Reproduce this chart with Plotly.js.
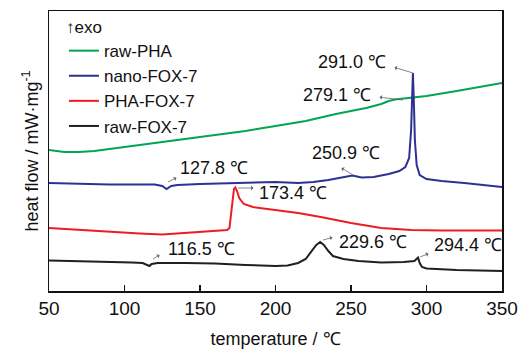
<!DOCTYPE html>
<html>
<head>
<meta charset="utf-8">
<script src="https://cdn.plot.ly/plotly-3.0.1.min.js"></script>
<style>html,body{margin:0;padding:0;background:#fff;}#chart{width:518px;height:349px;}</style>
</head>
<body>
<div id="chart"></div>
<script>
// Temperature (°C) and heat flow (arbitrary offsets, mW/mg)
const phaT = [50,60,70,80,100,120,140,160,180,200,220,240,260,270,275,279,290,300,320,340,350];
const phaY = [1.41,1.39,1.39,1.40,1.44,1.48,1.52,1.56,1.60,1.65,1.70,1.77,1.83,1.87,1.90,1.915,1.93,1.95,2.00,2.05,2.08];

const nanoT = [50,70,90,110,120,125,127.8,131,135,150,175,200,215,225,235,245,250.9,257,265,275,282,286,288.5,289.8,290.5,291,291.6,292.3,293.5,295.5,300,310,325,340,350];
const nanoY = [1.08,1.07,1.065,1.065,1.065,1.05,1.02,1.05,1.06,1.07,1.08,1.09,1.08,1.09,1.11,1.14,1.155,1.135,1.14,1.17,1.20,1.24,1.33,1.61,1.96,2.18,1.91,1.51,1.26,1.16,1.12,1.10,1.08,1.06,1.04];

const phaFoxT = [50,70,90,110,125,140,155,165,168,169.5,170.5,171.5,172.5,173.4,174.5,176,179,185,195,205,215,230,250,270,290,310,350];
const phaFoxY = [0.63,0.61,0.59,0.575,0.565,0.58,0.595,0.61,0.61,0.63,0.76,0.93,1.02,1.035,1.00,0.93,0.87,0.84,0.82,0.80,0.78,0.74,0.68,0.63,0.61,0.605,0.605];

const rawFoxT = [50,70,90,105,112,115,116.5,118,122,140,160,180,200,208,215,220,224,227,229.6,232,235,238,245,255,270,285,292,294.4,295.5,297,300,320,350];
const rawFoxY = [0.305,0.30,0.295,0.285,0.28,0.265,0.25,0.27,0.28,0.28,0.275,0.26,0.25,0.255,0.28,0.32,0.40,0.46,0.49,0.46,0.40,0.35,0.32,0.30,0.285,0.29,0.30,0.335,0.28,0.24,0.225,0.21,0.20];

const seriesNames = ['raw-PHA','nano-FOX-7','PHA-FOX-7','raw-FOX-7'];
const xTicks = [50,100,150,200,250,300,350];

// peak labels: text, text position, arrow tail (on curve), arrow head
const peakLabels = ['291.0 ℃','279.1 ℃','250.9 ℃','127.8 ℃','173.4 ℃','116.5 ℃','229.6 ℃','294.4 ℃'];
const labelX = [274.5,264.6,247.0,135.4,187.7,127.5,240.7,303.6];
const labelY = [2.29,1.96,1.38,1.23,0.98,0.42,0.49,0.46];
const labelAnchor = ['right','right','center','left','left','left','left','left'];
const tailX = [291.1,284.4,251.3,128.8,175.2,118.9,231.5,295.7];
const tailY = [2.18,1.91,1.16,1.09,1.03,0.32,0.51,0.34];
const headX = [277.8,267.9,242.7,135.4,186.4,124.2,238.7,302.3];
const headY = [2.24,1.94,1.24,1.14,1.03,0.37,0.54,0.38];

const FONT = "'Liberation Sans', Arial, sans-serif";
const colors = ['#00a651','#2e3192','#ed1c24','#231f20'];
const xs = [phaT,nanoT,phaFoxT,rawFoxT];
const ys = [phaY,nanoY,phaFoxY,rawFoxY];

const traces = seriesNames.map((n,i)=>({
  x: xs[i], y: ys[i], name: n, type: 'scatter', mode: 'lines',
  line: {color: colors[i], width: 2}
}));

const annotations = [];
peakLabels.forEach((t,i)=>{
  annotations.push({x: tailX[i], y: tailY[i], ax: headX[i], ay: headY[i], axref:'x', ayref:'y',
    xref:'x', yref:'y', text:'', showarrow:true, arrowside:'start', arrowhead:2, arrowsize:1,
    arrowwidth:0.8, arrowcolor:'#666', standoff:0, startstandoff:0});
  annotations.push({x: labelX[i], y: labelY[i], xref:'x', yref:'y', text: t, showarrow:false,
    xanchor: labelAnchor[i], yanchor:'middle', font:{family:FONT, size:18, color:'#111'}});
});

const layout = {
  width: 518, height: 349,
  margin: {l:49, r:16, t:11, b:58},
  paper_bgcolor:'#fff', plot_bgcolor:'#fff',
  font: {family: FONT, size: 18, color:'#111'},
  showlegend: true,
  legend: {x:0.033, y:1.0, xanchor:'left', yanchor:'top', bgcolor:'rgba(0,0,0,0)',
    font:{family:FONT, size:17, color:'#111'}, tracegroupgap:0, itemwidth:30,
    title:{text:'↑exo', font:{family:FONT, size:17, color:'#111'}}},
  xaxis: {range:[50,350], tickvals:xTicks, ticktext:xTicks.map(String), ticks:'inside', ticklen:6,
    tickwidth:1.2, tickcolor:'#111', showline:true, linecolor:'#111', linewidth:1.5, mirror:true,
    showgrid:false, zeroline:false, tickfont:{family:FONT, size:19, color:'#111'},
    title:{text:'temperature / ℃', font:{family:FONT, size:18, color:'#111'}, standoff:14}},
  yaxis: {range:[0,2.8], showticklabels:false, ticks:'', showline:true, linecolor:'#111', linewidth:1.5,
    mirror:true, showgrid:false, zeroline:false,
    title:{text:'heat flow / mW·mg<sup>-1</sup>', font:{family:FONT, size:18, color:'#111'}, standoff:4}},
  annotations: annotations
};

Plotly.newPlot('chart', traces, layout, {displayModeBar:false, staticPlot:true});
</script>
</body>
</html>
